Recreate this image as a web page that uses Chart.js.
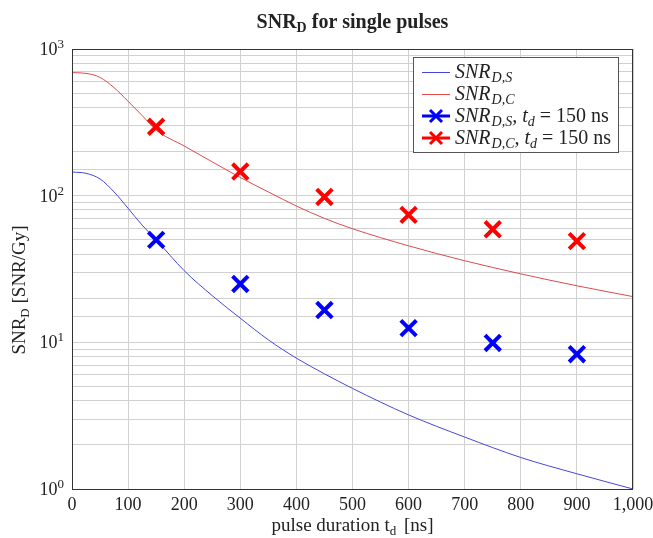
<!DOCTYPE html>
<html>
<head>
<meta charset="utf-8">
<script src="https://cdn.jsdelivr.net/npm/chart.js@4/dist/chart.umd.min.js"></script>
<style>
html,body{margin:0;padding:0;background:#fff;}
#c{display:block;}
</style>
</head>
<body>
<canvas id="c" width="653" height="538"></canvas>
<script>
// ---- data ----
const curveT = [0, 25, 50, 75, 100, 125, 150, 200, 250, 300, 350, 400, 450, 500, 600, 700, 800, 900, 1000];
const snrDS = [145, 142, 130, 106, 82, 63, 50, 30.8, 20.8, 14.6, 10.4, 7.8, 6.1, 4.85, 3.2, 2.26, 1.64, 1.27, 1.0];
const snrDC = [690, 682, 640, 545, 440, 352, 280, 218, 170, 133, 106, 85, 70, 59.5, 45.5, 36, 29.3, 24.3, 20.5];
const markT = [150, 300, 450, 600, 750, 900];
const markDS = [50, 25, 16.6, 12.5, 9.9, 8.3];
const markDC = [295, 146, 98, 74, 59, 49];
const xTicks = [0, 100, 200, 300, 400, 500, 600, 700, 800, 900, 1000];
const yDecades = [1, 10, 100, 1000];

const SERIF = '"Liberation Serif", "DejaVu Serif", serif';
const pts = (xs, ys) => xs.map((x, i) => ({x: x, y: ys[i]}));

function drawRich(ctx, segs, x, y, align) {
  let w = 0;
  segs.forEach(s => { ctx.font = s.f; w += ctx.measureText(s.t).width + (s.gap || 0); });
  let cx = align === 'center' ? x - w / 2 : (align === 'right' ? x - w : x);
  segs.forEach(s => {
    ctx.font = s.f;
    ctx.fillText(s.t, cx, y + (s.dy || 0));
    cx += ctx.measureText(s.t).width + (s.gap || 0);
  });
}

const decor = {
  id: 'decor',
  afterDraw(chart) {
    const ctx = chart.ctx;
    const a = chart.chartArea;
    const ys = chart.scales.y;
    ctx.save();
    // axis box
    ctx.strokeStyle = '#333';
    ctx.lineWidth = 1;
    ctx.strokeRect(Math.round(a.left) + 0.5, Math.round(a.top) + 0.5, Math.round(a.right - a.left) - 1, Math.round(a.bottom - a.top));
    ctx.fillStyle = '#222';
    ctx.textBaseline = 'alphabetic';
    // y tick labels 10^n
    yDecades.forEach((v, i) => {
      const py = ys.getPixelForValue(v);
      drawRich(ctx, [
        {t: '10', f: '18px ' + SERIF},
        {t: String(i), f: '13px ' + SERIF, dy: -7}
      ], 64, py + 6, 'right');
    });
    // title
    const cx = (a.left + a.right) / 2;
    drawRich(ctx, [
      {t: 'SNR', f: 'bold 20px ' + SERIF},
      {t: 'D', f: 'bold 14px ' + SERIF, dy: 4},
      {t: ' for single pulses', f: 'bold 20px ' + SERIF}
    ], cx, 28, 'center');
    // x title
    drawRich(ctx, [
      {t: 'pulse duration t', f: '19px ' + SERIF},
      {t: 'd', f: '13px ' + SERIF, dy: 4, gap: 3},
      {t: ' [ns]', f: '19px ' + SERIF}
    ], cx, 531, 'center');
    // y title
    ctx.save();
    ctx.translate(25, 290);
    ctx.rotate(-Math.PI / 2);
    drawRich(ctx, [
      {t: 'SNR', f: '19px ' + SERIF},
      {t: 'D', f: '13px ' + SERIF, dy: 4},
      {t: ' [SNR/Gy]', f: '19px ' + SERIF}
    ], 0, 0, 'center');
    ctx.restore();
    // legend
    const lx = 413, ly = 57, lw = 205, lh = 95;
    ctx.fillStyle = '#fff';
    ctx.fillRect(lx, ly, lw, lh);
    ctx.strokeStyle = '#555';
    ctx.strokeRect(lx + 0.5, ly + 0.5, lw, lh);
    const ds = chart.data.datasets;
    const rows = [72, 94, 116, 138];
    rows.forEach((ry, i) => {
      const d = ds[i];
      ctx.strokeStyle = d.borderColor;
      if (i < 2) {
        ctx.lineWidth = 1;
        ctx.beginPath(); ctx.moveTo(422, ry + 0.5); ctx.lineTo(450, ry + 0.5); ctx.stroke();
      } else {
        ctx.lineWidth = 3;
        ctx.beginPath(); ctx.moveTo(422, ry); ctx.lineTo(450, ry); ctx.stroke();
        ctx.beginPath();
        ctx.moveTo(430, ry - 6); ctx.lineTo(442, ry + 6);
        ctx.moveTo(430, ry + 6); ctx.lineTo(442, ry - 6);
        ctx.stroke();
      }
      ctx.fillStyle = '#222';
      const sub = i % 2 === 0 ? 'D,S' : 'D,C';
      const segs = [
        {t: 'SNR', f: 'italic 20px ' + SERIF, gap: 1},
        {t: sub, f: 'italic 14px ' + SERIF, dy: 4}
      ];
      if (i >= 2) {
        segs.push({t: ', t', f: 'italic 20px ' + SERIF});
        segs.push({t: 'd', f: 'italic 14px ' + SERIF, dy: 4});
        segs.push({t: ' = 150 ns', f: '20px ' + SERIF});
      }
      drawRich(ctx, segs, 455, ry + 6, 'left');
    });
    ctx.restore();
  }
};

new Chart(document.getElementById('c'), {
  type: 'line',
  data: {
    datasets: [
      {label: 'SNR_D,S', data: pts(curveT, snrDS), borderColor: '#4646dc', borderWidth: 1, pointRadius: 0, cubicInterpolationMode: 'monotone', order: 2},
      {label: 'SNR_D,C', data: pts(curveT, snrDC), borderColor: '#de4a4a', borderWidth: 1, pointRadius: 0, cubicInterpolationMode: 'monotone', order: 2},
      {label: 'SNR_D,S, t_d = 150 ns', data: pts(markT, markDS), borderColor: '#0000ff', backgroundColor: '#0000ff', showLine: false, pointStyle: 'crossRot', pointRadius: 11, pointBorderWidth: 4, borderWidth: 4, order: 1},
      {label: 'SNR_D,C, t_d = 150 ns', data: pts(markT, markDC), borderColor: '#ff0000', backgroundColor: '#ff0000', showLine: false, pointStyle: 'crossRot', pointRadius: 11, pointBorderWidth: 4, borderWidth: 4, order: 1}
    ]
  },
  options: {
    responsive: false,
    animation: false,
    devicePixelRatio: 1,
    layout: {padding: {top: 49, right: 20, left: 0, bottom: 0}},
    plugins: {legend: {display: false}, title: {display: false}, tooltip: {enabled: false}},
    scales: {
      x: {
        type: 'linear', min: 0, max: 1000,
        afterBuildTicks: s => { s.ticks = xTicks.map(v => ({value: v})); },
        ticks: {
          autoSkip: false, maxRotation: 0, padding: 5, color: '#222',
          font: {family: SERIF, size: 18},
          callback: v => v >= 1000 ? v.toLocaleString('en-US') : String(v)
        },
        grid: {color: '#d0d0d0', drawTicks: false, lineWidth: 1},
        border: {display: false},
        afterFit: s => { s.height = 49; s.paddingLeft = 0; s.paddingRight = 0; }
      },
      y: {
        type: 'logarithmic', min: 1, max: 1000,
        ticks: {autoSkip: false, callback: () => '', font: {size: 1}},
        grid: {color: '#d0d0d0', drawTicks: false, lineWidth: 1},
        border: {display: false},
        afterFit: s => { s.width = 72; s.paddingTop = 0; s.paddingBottom = 0; }
      }
    }
  },
  plugins: [decor]
});
</script>
</body>
</html>
